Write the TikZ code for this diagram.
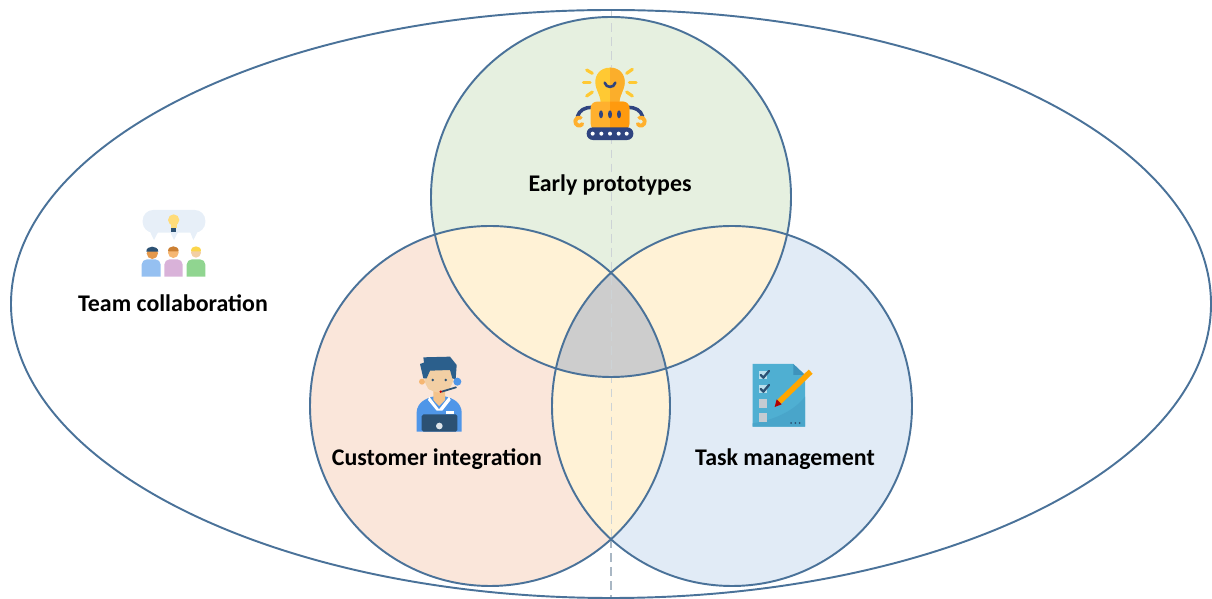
\documentclass[tikz,border=0pt]{standalone}
\usepackage{fontspec}
\setmainfont{Carlito}
\definecolor{ringblue}{HTML}{4A7299}
\definecolor{greenfill}{HTML}{E6F0E0}
\definecolor{peachfill}{HTML}{FAE6DA}
\definecolor{bluefill}{HTML}{E1EBF6}
\definecolor{creamfill}{HTML}{FFF2D6}
\definecolor{greyfill}{HTML}{CDCDCD}
\definecolor{axisgrey}{HTML}{A9B7C4}
\definecolor{axisfaint}{HTML}{CDD3D6}
\definecolor{bulbyellow}{HTML}{FFC933}
\definecolor{bulbdark}{HTML}{FBAE2B}
\definecolor{robotbody}{HTML}{FFB02E}
\definecolor{robotdark}{HTML}{FF9A0E}
\definecolor{navy}{HTML}{2F4480}
\definecolor{hairblue}{HTML}{2B5F8C}
\definecolor{shirtblue}{HTML}{4F96E8}
\definecolor{skin}{HTML}{F2CFA4}
\definecolor{laptop}{HTML}{2C5173}
\definecolor{docblue}{HTML}{4FAFD2}
\definecolor{docdark}{HTML}{3E93BC}
\tikzset{
	ring/.style={draw=ringblue,line width=1.1pt},
	label/.style={font=\fontsize{13.6}{16}\selectfont\bfseries,text=black,inner sep=0pt},
	icon/.style={x=0.00667cm,y=-0.00667cm,line cap=round,line join=round},
}
\begin{document}
\begin{tikzpicture}
		\useasboundingbox (0,0) rectangle (24.24,11.98);
		
		\coordinate (topc) at (12.22,8.04);
		\coordinate (leftc) at (9.8,3.86);
		\coordinate (rightc) at (14.64,3.86);
		
		\fill[greenfill] (topc) circle (3.6);
		\fill[peachfill] (leftc) circle (3.6);
		\fill[bluefill] (rightc) circle (3.6);
		
		\begin{scope}
			\clip (topc) circle (3.6);
			\fill[creamfill] (leftc) circle (3.6);
			\fill[creamfill] (rightc) circle (3.6);
		\end{scope}
		\begin{scope}
			\clip (leftc) circle (3.6);
			\fill[creamfill] (rightc) circle (3.6);
			\clip (rightc) circle (3.6);
			\fill[greyfill] (topc) circle (3.6);
		\end{scope}
		
		\coordinate (axistop) at (12.22,11.8);
		\coordinate (axismid) at (12.22,1.2);
		\coordinate (axisbot) at (12.22,0);
		\draw[axisfaint,line width=0.5pt,dash pattern=on 5pt off 3pt] (axistop) -- (axismid);
		\draw[axisgrey,line width=0.6pt,dash pattern=on 5pt off 3pt] (axismid) -- (axisbot);
		
		\draw[ring] (12.22,5.9) ellipse (12 and 5.88);
		\draw[ring] (topc) circle (3.6);
		\draw[ring] (leftc) circle (3.6);
		\draw[ring] (rightc) circle (3.6);
		
		\node[label] (early) at (12.2,8.28){Early prototypes};
		\node[label] (team) at (3.46,5.92){Team collaboration};
		\node[label] (customer) at (8.74,2.8){Customer integration};
		\node[label] (task) at (15.7,2.8){Task management};
		
		\begin{scope}[shift={(11.2,10.98)},icon]
			\draw[bulbyellow,line width=1.8pt] (80,60) -- (97,70);
			\draw[bulbyellow,line width=1.8pt] (70,98) -- (90,98);
			\draw[bulbyellow,line width=1.8pt] (80,138) -- (97,126);
			\draw[bulbyellow,line width=1.8pt] (200,70) -- (217,58);
			\draw[bulbyellow,line width=1.8pt] (208,98) -- (228,98);
			\draw[bulbyellow,line width=1.8pt] (200,126) -- (217,138);
			\fill[bulbyellow] (150,53) .. controls (120,53) and (105,75) .. (106,98) .. controls (107,122) and (120,130) .. (122,158) -- (178,158) .. controls (180,130) and (193,122) .. (194,98) .. controls (195,75) and (180,53) .. (150,53);
			\fill[bulbdark] (150,53) .. controls (180,53) and (195,75) .. (194,98) .. controls (193,122) and (180,130) .. (178,158) -- (150,158) -- cycle;
			\draw[navy,line width=1.5pt] (134,98) .. controls (138,115) and (162,115) .. (166,98);
			\draw[navy,line width=2pt] (95,172) .. controls (75,172) and (58,180) .. (52,200);
			\draw[navy,line width=2pt] (205,172) .. controls (225,172) and (242,180) .. (248,200);
			\draw[robotbody,line width=2.2pt] (67,222) .. controls (60,232) and (44,226) .. (46,212) .. controls (47,205) and (55,200) .. (62,203);
			\draw[robotbody,line width=2.2pt] (233,222) .. controls (240,232) and (256,226) .. (254,212) .. controls (253,205) and (245,200) .. (238,203);
			\fill[robotbody,rounded corners=3.5pt] (92,155) rectangle (208,240);
			\begin{scope}
				\clip (150,150) rectangle (215,240);
				\fill[robotdark,rounded corners=3.5pt] (92,155) rectangle (208,240);
			\end{scope}
			\fill[navy] (123,193) ellipse (6 and 12);
			\fill[navy] (150,193) ellipse (6 and 12);
			\fill[navy] (177,193) ellipse (6 and 12);
			\fill[navy,rounded corners=3.5pt] (80,232) rectangle (220,270);
			\foreach \dotx in {98,124,150,176,200}
				\fill[white] (\dotx,251) circle (6);
		\end{scope}
		
		\begin{scope}[shift={(2.6,7.98)},icon]
			\fill[bluefill!80!white,rounded corners=6pt] (38,30) rectangle (226,98);
			\fill[bluefill!80!white] (60,95) -- (72,120) -- (85,95) -- cycle;
			\fill[bluefill!80!white] (120,95) -- (132,120) -- (145,95) -- cycle;
			\fill[bluefill!80!white] (180,95) -- (190,120) -- (203,95) -- cycle;
			\fill[bulbyellow!65!white] (131,60) circle (17);
			\fill[bulbyellow!65!white] (122,66) rectangle (140,84);
			\fill[laptop] (123,83) rectangle (139,96);
			\fill[shirtblue!60!white] (35,230) [rounded corners=3pt] -- (35,178) -- (92,178) [sharp corners] -- (92,230) -- cycle;
			\fill[orange!50!brown!80!white] (67,160) circle (17);
			\fill[laptop] (49,155) .. controls (48,135) and (85,135) .. (85,155) -- cycle;
			\fill[violet!30!white] (103,230) [rounded corners=3pt] -- (103,178) -- (158,178) [sharp corners] -- (158,230) -- cycle;
			\fill[skin!70!orange] (130,158) circle (16);
			\fill[brown!80!orange] (114,154) .. controls (113,134) and (147,134) .. (146,154) -- cycle;
			\fill[green!45!gray!60!white] (170,230) [rounded corners=3pt] -- (170,178) -- (226,178) [sharp corners] -- (226,230) -- cycle;
			\fill[skin] (198,158) circle (15);
			\fill[yellow!60!orange!70!white] (183,154) .. controls (182,134) and (214,134) .. (213,154) -- cycle;
		\end{scope}
		
		\begin{scope}[shift={(8,4.98)},icon]
			\fill[shirtblue] (50,245) [rounded corners=4pt] -- (50,165) -- (92,138) -- (145,138) -- (185,165) [sharp corners] -- (185,245) -- cycle;
			\fill[white] (88,140) -- (117,178) -- (147,140) -- (152,150) -- (127,182) -- (110,182) -- (84,150) -- cycle;
			\fill[skin!85!orange] (100,110) -- (135,110) -- (135,150) -- (117,168) -- (100,150) -- cycle;
			\fill[skin!70!orange] (66,95) circle (9);
			\fill[skin,rounded corners=4pt] (73,45) -- (160,45) -- (160,105) -- (135,128) -- (98,128) -- (73,105) -- cycle;
			\fill[hairblue] (70,22) -- (150,20) -- (170,45) -- (167,88) -- (157,85) -- (150,60) -- (90,62) -- (80,85) -- (70,85) -- (60,42) -- (72,38) -- cycle;
			\fill[laptop] (98,90) circle (4);
			\fill[laptop] (137,90) circle (4);
			\fill[shirtblue] (172,95) circle (12);
			\draw[laptop,line width=1pt] (168,112) -- (125,125);
			\fill[red!80!black] (122,125) circle (4);
			\fill[white] (138,182) rectangle (162,192);
			\fill[laptop,rounded corners=1pt] (65,193) rectangle (172,245);
			\fill[white!85!laptop] (118,228) circle (10);
		\end{scope}
		
		\begin{scope}[shift={(14.8,4.88)},icon]
			\fill[docblue] (38,27) -- (160,27) -- (195,60) -- (195,215) -- (38,215) -- cycle;
			\fill[docdark] (160,27) -- (195,60) -- (160,60) -- cycle;
			\fill[docdark!35!docblue] (38,215) -- (38,205) .. controls (100,195) and (160,170) .. (195,125) -- (195,215) -- cycle;
			\fill[docblue!40!white] (57,47) rectangle (82,72);
			\fill[docblue!40!white] (57,90) rectangle (82,115);
			\fill[bluefill!70!gray] (57,133) rectangle (82,158);
			\fill[bluefill!70!gray] (57,175) rectangle (82,200);
			\draw[laptop,line width=1.3pt] (62,60) -- (70,68) -- (87,48);
			\draw[laptop,line width=1.3pt] (62,102) -- (70,110) -- (87,90);
			\draw[orange!70!yellow,line width=3.2pt,line cap=butt] (118,140) -- (212,50);
			\fill[red!70!black] (104,156) -- (110,133) -- (125,148) -- cycle;
			\foreach \dotx in {153,166,179}
				\fill[laptop] (\dotx,204) circle (3);
		\end{scope}
	\end{tikzpicture}
\end{document}
